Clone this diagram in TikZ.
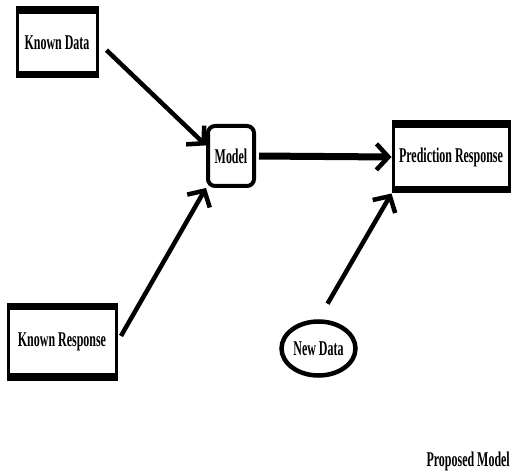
\documentclass[tikz,border=0pt]{standalone}
\usepackage{fontspec}
\setmainfont{Liberation Serif}
\usepackage{graphicx}
\usepackage{tikz}
\usetikzlibrary{arrows.meta, positioning, shapes.geometric}
\newcommand{\lbl}[1]{\scalebox{0.57}[1]{\bfseries #1}}

\begin{document}
\begin{tikzpicture}[x=1pt, y=1pt,
    box/.style={rectangle, draw, line width=3pt, inner sep=0pt, align=center,
                font=\fontsize{21}{23}\selectfont,
                path picture={
                  \fill (path picture bounding box.north west) rectangle ([yshift=-6pt]path picture bounding box.north east);
                  \fill (path picture bounding box.south west) rectangle ([yshift=6pt]path picture bounding box.south east);}},
    flow/.style={line width=4.5pt, -{Straight Barb[length=12pt, width=26pt, line width=4.5pt]}}
]
\useasboundingbox (0,0) rectangle (511,471);
\node[box, minimum width=80pt, minimum height=69pt] (kdata) at (57,428.5) {\lbl{Known Data}};
\node[rectangle, rounded corners=7pt, draw, line width=4pt, minimum width=46pt, minimum height=60pt,
      inner sep=0pt, font=\fontsize{21}{23}\selectfont] (model) at (231,315) {\lbl{Model}};
\node[box, minimum width=116pt, minimum height=70pt] (pred) at (451,314) {\lbl{Prediction Response}};
\node[box, minimum width=108pt, minimum height=75pt] (kresp) at (62,129) {\lbl{Known Response}};
\node[ellipse, draw, line width=4.5pt, minimum width=74pt, minimum height=54pt, inner sep=0pt,
      font=\fontsize{21}{23}\selectfont] (ndata) at (318.5,122.5) {\lbl{New Data}};
\node[anchor=east, inner sep=0pt, font=\fontsize{21}{23}\selectfont] (title) at (510,10) {\lbl{Proposed Model}};
\draw[flow, shorten <=11pt] (kdata.east) -- (model.157);
\draw[flow, shorten <=7pt] (kresp.east) -- (model.south west);
\draw[flow, line width=7pt, shorten <=3pt] (model.east) -- (pred.west);
\draw[flow, shorten <=18pt] (ndata.north) -- (pred.south west);
\end{tikzpicture}
\end{document}
